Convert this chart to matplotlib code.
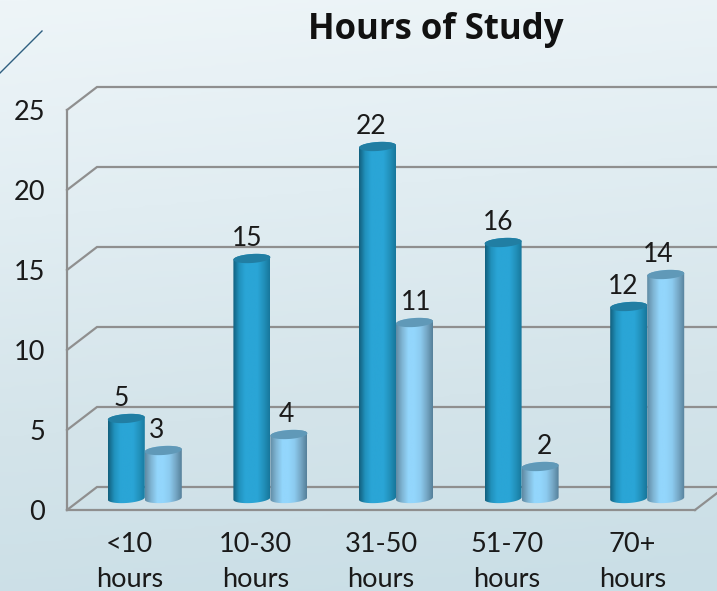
import numpy as np
import matplotlib
matplotlib.use('Agg')
import matplotlib.pyplot as plt
from matplotlib.colors import LinearSegmentedColormap
from matplotlib.lines import Line2D
from matplotlib.patches import PathPatch, Polygon
from matplotlib.path import Path

plt.rcParams['font.family'] = ['Lato', 'DejaVu Sans']

categories = ['<10\nhours', '10-30\nhours', '31-50\nhours', '51-70\nhours', '70+\nhours']
series_dark = [5, 15, 22, 16, 12]
series_light = [3, 4, 11, 2, 14]
y_ticks = [0, 5, 10, 15, 20, 25]

W, H = 717, 591
# plot box in pixels, the front plane of the 3d look
LEFT, RIGHT, TOP, BOTTOM = 67, 695, 110, 510
PX_X = 5 / (RIGHT - LEFT)
PX_Y = 25 / (BOTTOM - TOP)
DEPTH_X = 30 * PX_X
DEPTH_Y = 23 * PX_Y
BAR_W = 37 * PX_X

dark_cmap = LinearSegmentedColormap.from_list('dark', ['#125f7d', '#2192bd', '#2aa5d6', '#2aa5d6', '#2aa5d6', '#2291bb', '#17779c'])
light_cmap = LinearSegmentedColormap.from_list('light', ['#5f8aa3', '#7fb5d4', '#93d6fc', '#93d6fc', '#8ccbef', '#76a8c6', '#55809a'])


def draw_cylinder(ax, xc, value, cmap, cap_color):
    a = BAR_W / 2
    b = 4.5 * PX_Y
    tilt = 1.2 * PX_Y
    y0 = DEPTH_Y / 2
    y1 = value + y0
    t = np.linspace(0, np.pi, 40)
    # bottom edge runs left to right, top edge right to left
    bx = xc - a * np.cos(t)
    by = y0 - b * np.sin(t) - tilt * np.cos(t)
    tx = xc + a * np.cos(t)
    ty = y1 + b * np.sin(t) + tilt * np.cos(t)
    outline = np.column_stack([np.r_[bx, tx], np.r_[by, ty]])
    grad = np.linspace(0, 1, 128).reshape(1, -1)
    im = ax.imshow(grad, cmap=cmap, aspect='auto', zorder=3,
                   extent=(xc - a, xc + a, y0 - b - tilt, y1 + b + tilt))
    im.set_clip_path(PathPatch(Path(outline), transform=ax.transData))
    t2 = np.linspace(0, 2 * np.pi, 80)
    cap = np.column_stack([xc + a * np.cos(t2), y1 + b * np.sin(t2) + tilt * np.cos(t2)])
    ax.add_patch(Polygon(cap, closed=True, facecolor=cap_color, edgecolor='none', zorder=3.1))


fig = plt.figure(figsize=(W / 100, H / 100), dpi=100)

bg = fig.add_axes([0, 0, 1, 1], zorder=0)
bg_cmap = LinearSegmentedColormap.from_list('bg', ['#eef5f8', '#e1edf2', '#d4e4ea', '#c9dee6'])
yy, xx = np.mgrid[0:1:200j, 0:1:200j]
bg.imshow(yy * 0.9 + xx * 0.1, cmap=bg_cmap, aspect='auto', extent=(0, 1, 1, 0))
bg.axis('off')

fig.add_artist(Line2D([0, 42 / W], [1 - 73 / H, 1 - 31 / H], color='#2f5f80', lw=1))

ax = fig.add_axes([LEFT / W, 1 - BOTTOM / H, (RIGHT - LEFT) / W, (BOTTOM - TOP) / H], zorder=1)
ax.patch.set_visible(False)

grid_color = '#8f8f8f'
for v in y_ticks:
    xs = [0, DEPTH_X, 5 + DEPTH_X]
    ys = [v, v + DEPTH_Y, v + DEPTH_Y]
    ax.plot(xs, ys, color=grid_color, lw=1.6, clip_on=False, zorder=1, solid_joinstyle='miter')
ax.plot([5, 5 + DEPTH_X], [0, DEPTH_Y], color=grid_color, lw=1.6, clip_on=False, zorder=1)

# hand placed labels in the source, pixel nudge from bar centre
shift_dark = [-5, -5, -6, -5, -5]
shift_light = [-7, -3, 2, 4, -7]

x = np.arange(len(categories)) + 0.5
for i in range(len(categories)):
    xd = x[i] + DEPTH_X / 2 - BAR_W / 2
    xl = x[i] + DEPTH_X / 2 + BAR_W / 2
    draw_cylinder(ax, xd, series_dark[i], dark_cmap, '#217ea3')
    draw_cylinder(ax, xl, series_light[i], light_cmap, '#6099b8')
    for xc, val, sh in [(xd, series_dark[i], shift_dark[i]), (xl, series_light[i], shift_light[i])]:
        ax.annotate(str(val), (xc, val + DEPTH_Y / 2), xytext=(sh * 0.72, 20 * 0.72),
                    textcoords='offset points', ha='center', va='center',
                    fontsize=19, color='#1a1a1a', zorder=5, annotation_clip=False)

ax.set_xlim(0, 5)
ax.set_ylim(0, 25)
ax.set_xticks(x)
ax.set_xticklabels(categories, fontsize=19.5, color='#1a1a1a', linespacing=1.5)
ax.set_yticks(y_ticks)
ax.tick_params(axis='y', length=0, pad=16, labelsize=19.5, labelcolor='#1a1a1a')
ax.tick_params(axis='x', length=0, pad=15.5)
for lab in ax.get_yticklabels():
    lab.set_verticalalignment('center_baseline')
for s in ['top', 'right']:
    ax.spines[s].set_visible(False)
for s in ['left', 'bottom']:
    ax.spines[s].set_color(grid_color)
    ax.spines[s].set_linewidth(1.6)

fig.text(435.5 / W, 1 - 30 / H, 'Hours of Study', ha='center', va='center',
         fontsize=25, fontweight='bold', color='#111111', family=['Open Sans', 'DejaVu Sans'])

fig.savefig('out.png', dpi=100)
